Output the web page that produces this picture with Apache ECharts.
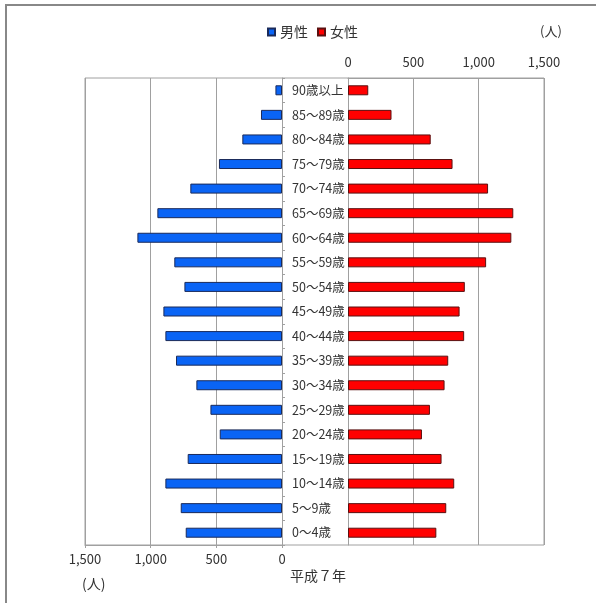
<!DOCTYPE html>
<html><head><meta charset="utf-8">
<script src="https://cdn.jsdelivr.net/npm/echarts@6/dist/echarts.min.js"></script>
<style>html,body{margin:0;padding:0;background:#fff}#c{width:596px;height:603px}</style>
</head><body><div id="c"></div>
<script>
// categories listed bottom to top
const categories = ['0～4歳','5～9歳','10～14歳','15～19歳','20～24歳','25～29歳','30～34歳','35～39歳','40～44歳','45～49歳','50～54歳','55～59歳','60～64歳','65～69歳','70～74歳','75～79歳','80～84歳','85～89歳','90歳以上'];
const male   = [733, 771, 888, 718, 474, 545, 652, 807, 888, 903, 743, 820, 1101, 949, 698, 480, 302, 160, 50];
const female = [676, 752, 813, 716, 566, 627, 739, 767, 889, 854, 894, 1057, 1250, 1265, 1072, 800, 633, 333, 155];
const axisTicks = [0, 500, 1000, 1500];
const seriesNames = ['男性', '女性'];
const unitLabel = '(人)';
const yearLabel = '平成７年';

const FONT = '"Noto Sans CJK JP", sans-serif';
const GRAY = '#a0a0a0';
const TXT = '#333';
const fmt = v => v.toLocaleString('en-US');

const chart = echarts.init(document.getElementById('c'), null, {renderer:'canvas'});
chart.setOption({
  animation: false,
  backgroundColor: '#fff',
  textStyle: {fontFamily: FONT},
  legend: {
    data: seriesNames, left: 262, top: 20, icon: 'rect', itemWidth: 7, itemHeight: 7, itemGap: 9,
    textStyle: {fontSize: 14, color: TXT, fontFamily: FONT}
  },
  grid: [
    {left: 85, right: 314, top: 78, bottom: 58},
    {left: 348, right: 52, top: 78, bottom: 58}
  ],
  xAxis: [
    {gridIndex: 0, type: 'value', inverse: true, min: axisTicks[0], max: axisTicks[axisTicks.length-1], interval: 500, position: 'bottom',
     axisLine: {show: true, lineStyle: {color: GRAY}}, axisTick: {show: true, length: 3, lineStyle: {color: GRAY}},
     splitLine: {show: true, lineStyle: {color: GRAY}},
     axisLabel: {formatter: fmt, color: TXT, fontSize: 13, margin: 8, fontFamily: FONT}},
    {gridIndex: 1, type: 'value', min: axisTicks[0], max: axisTicks[axisTicks.length-1], interval: 500, position: 'top',
     axisLine: {show: true, lineStyle: {color: GRAY}}, axisTick: {show: false},
     splitLine: {show: true, lineStyle: {color: GRAY}},
     axisLabel: {formatter: fmt, color: TXT, fontSize: 13, margin: 9, fontFamily: FONT}}
  ],
  yAxis: [
    {gridIndex: 0, type: 'category', data: categories, position: 'right',
     axisLine: {show: true, lineStyle: {color: GRAY}}, axisTick: {show: true, length: 3, lineStyle: {color: GRAY}},
     axisLabel: {color: TXT, fontSize: 12.5, margin: 10, fontFamily: FONT}},
    {gridIndex: 1, type: 'category', data: categories, position: 'left',
     axisLine: {show: true, lineStyle: {color: GRAY}}, axisTick: {show: false}, axisLabel: {show: false}}
  ],
  series: [
    {name: seriesNames[0], type: 'bar', xAxisIndex: 0, yAxisIndex: 0, data: male, barWidth: 10,
     itemStyle: {color: '#0a64f5', borderColor: '#1a2a5a', borderWidth: 1}},
    {name: seriesNames[1], type: 'bar', xAxisIndex: 1, yAxisIndex: 1, data: female, barWidth: 10,
     itemStyle: {color: '#ff0000', borderColor: '#5a1010', borderWidth: 1}}
  ],
  graphic: [
    {type: 'rect', shape: {x: 85, y: 78, width: 459, height: 467}, style: {fill: 'none', stroke: GRAY, lineWidth: 1}, silent: true, z: -1},
    {type: 'polyline', shape: {points: [[6, 603], [6, 5], [596, 5]]}, style: {fill: 'none', stroke: '#888', lineWidth: 2}, silent: true},
    {type: 'text', x: 540, y: 25, style: {text: unitLabel, fontSize: 13, fill: TXT, fontFamily: FONT}},
    {type: 'text', x: 82, y: 577, style: {text: unitLabel, fontSize: 14, fill: TXT, fontFamily: FONT}},
    {type: 'text', x: 290, y: 569, style: {text: yearLabel, fontSize: 14, fill: TXT, fontFamily: FONT}}
  ]
});
</script></body></html>
